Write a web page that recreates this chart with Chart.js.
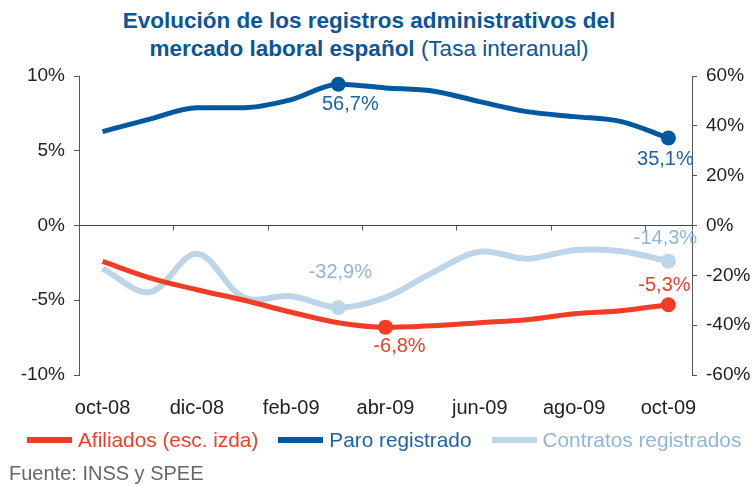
<!DOCTYPE html>
<html>
<head>
<meta charset="utf-8">
<script src="https://cdn.jsdelivr.net/npm/chart.js@4.4.1/dist/chart.umd.min.js"></script>
<style>
  body { margin: 0; background: #fff; }
  #wrap { position: relative; width: 755px; height: 486px; font-family: 'Liberation Sans', Arial, sans-serif; }
  #title { position: absolute; left: 0; top: 7px; width: 738px; text-align: center; color: #0b5599; font-size: 22.5px; line-height: 28px; }
  #chart { position: absolute; left: 0; top: 0; }
  #legend { position: absolute; left: 27px; top: 428px; display: flex; align-items: center; font-size: 20.8px; white-space: nowrap; }
  #legend .item { display: flex; align-items: center; margin-right: 20px; }
  #legend .sw { width: 45px; height: 6px; margin-right: 6px; }
  #source { position: absolute; left: 9px; top: 462px; font-size: 20px; color: #666; }
</style>
</head>
<body>
<div id="wrap">
  <div id="title"><b>Evolución de los registros administrativos del</b><br><b>mercado laboral español</b> (Tasa interanual)</div>
  <canvas id="chart" width="755" height="486"></canvas>
  <div id="legend"></div>
  <div id="source">Fuente: INSS y SPEE</div>
</div>
<script>
const months = ['oct-08','nov-08','dic-08','ene-09','feb-09','mar-09','abr-09','may-09','jun-09','jul-09','ago-09','sep-09','oct-09'];
const afiliados = [-2.4, -3.5, -4.3, -5.0, -5.8, -6.5, -6.8, -6.7, -6.5, -6.3, -5.9, -5.7, -5.3];
const paro = [37.7, 42.7, 47.3, 47.3, 50.5, 56.7, 55.2, 54.0, 49.7, 45.7, 43.7, 41.7, 35.1];
const contratos = [-17.3, -26.7, -11.3, -28.9, -28.4, -32.9, -28.9, -18.9, -10.5, -13.3, -9.9, -10.3, -14.3];
const leftTicks = [-10, -5, 0, 5, 10];
const rightTicks = [-60, -40, -20, 0, 20, 40, 60];

const FONT = "'Liberation Sans', Arial, sans-serif";
const fmt = (v) => v.toFixed(1).replace('.', ',') + '%';

// which points get a dot + value label, and where the label sits
const series = [
  { label: 'Afiliados (esc. izda)', data: afiliados, axis: 'y', color: '#f23d26', text: '#f23d26', width: 5,
    interp: 'monotone', marks: [6, 12], offs: [[14, 19], [-4, -19]] },
  { label: 'Paro registrado', data: paro, axis: 'y1', color: '#00589e', text: '#1b62ab', width: 5,
    interp: 'monotone', marks: [5, 12], offs: [[12, 20], [-3, 21]] },
  { label: 'Contratos registrados', data: contratos, axis: 'y1', color: '#bdd5e8', text: '#8fb6da', width: 6,
    interp: 'default', marks: [5, 12], offs: [[2, -35], [-3, -23]] }
];

const legend = document.getElementById('legend');
series.forEach((s) => {
  const it = document.createElement('div');
  it.className = 'item';
  it.innerHTML = '<span class="sw" style="background:' + s.color + '"></span><span style="color:' + s.text + '">' + s.label + '</span>';
  legend.appendChild(it);
});

const valueLabels = {
  id: 'valueLabels',
  afterDatasetsDraw(chart) {
    const c = chart.ctx;
    c.save();
    c.font = '20px ' + FONT;
    c.textAlign = 'center';
    c.textBaseline = 'middle';
    series.forEach((s, di) => {
      const meta = chart.getDatasetMeta(di);
      s.marks.forEach((idx, k) => {
        const pt = meta.data[idx];
        c.fillStyle = s.text;
        c.fillText(fmt(s.data[idx]), pt.x + s.offs[k][0], pt.y + s.offs[k][1]);
      });
    });
    c.restore();
  }
};

// small tick marks hanging under the 0 line, every two months
const zeroTicks = {
  id: 'zeroTicks',
  afterDraw(chart) {
    const xs = chart.scales.x;
    const y0 = chart.scales.y.getPixelForValue(0);
    const half = (xs.getPixelForValue(1) - xs.getPixelForValue(0)) / 2;
    const c = chart.ctx;
    c.save();
    c.strokeStyle = '#555';
    c.lineWidth = 1;
    c.beginPath();
    for (let i = 2; i < months.length; i += 2) {
      const x = Math.round(xs.getPixelForValue(i) - half) + 0.5;
      c.moveTo(x, y0);
      c.lineTo(x, y0 + 5);
    }
    c.stroke();
    c.restore();
  }
};

new Chart(document.getElementById('chart'), {
  type: 'line',
  data: {
    labels: months,
    datasets: series.map((s) => ({
      label: s.label,
      data: s.data,
      yAxisID: s.axis,
      borderColor: s.color,
      backgroundColor: s.color,
      borderWidth: s.width,
      tension: 0.35,
      cubicInterpolationMode: s.interp,
      pointRadius: (ctx) => s.marks.includes(ctx.dataIndex) ? 7.5 : 0,
      pointBorderWidth: 0,
      fill: false
    }))
  },
  options: {
    responsive: false,
    animation: false,
    layout: { padding: { left: 19, right: 3, top: 76, bottom: 66 } },
    plugins: { legend: { display: false }, tooltip: { enabled: false } },
    scales: {
      x: {
        type: 'category',
        position: 'bottom',
        offset: true,
        afterFit: (sc) => { sc.height = 45; },
        grid: { display: false },
        border: { display: false },
        ticks: {
          autoSkip: false, maxRotation: 0, padding: 13,
          color: '#222', font: { family: FONT, size: 20 },
          callback: (v, i) => i % 2 === 0 ? months[i] : ''
        }
      },
      y: {
        position: 'left',
        min: -10, max: 10,
        afterBuildTicks: (sc) => { sc.ticks = leftTicks.map((v) => ({ value: v })); },
        afterFit: (sc) => { sc.width = 60; },
        grid: {
          drawOnChartArea: true, drawTicks: true, tickLength: 5, tickColor: '#555',
          color: (ctx) => ctx.tick && ctx.tick.value === 0 ? '#444' : 'rgba(0,0,0,0)'
        },
        border: { display: true, color: '#555' },
        ticks: { padding: 9, color: '#222', font: { family: FONT, size: 19 }, callback: (v) => v + '%' }
      },
      y1: {
        position: 'right',
        min: -60, max: 60,
        afterBuildTicks: (sc) => { sc.ticks = rightTicks.map((v) => ({ value: v })); },
        afterFit: (sc) => { sc.width = 60; },
        grid: { drawOnChartArea: false, drawTicks: true, tickLength: 5, color: '#555' },
        border: { display: true, color: '#555' },
        ticks: { padding: 9, color: '#222', font: { family: FONT, size: 19 }, callback: (v) => v + '%' }
      }
    }
  },
  plugins: [valueLabels, zeroTicks]
});
</script>
</body>
</html>
